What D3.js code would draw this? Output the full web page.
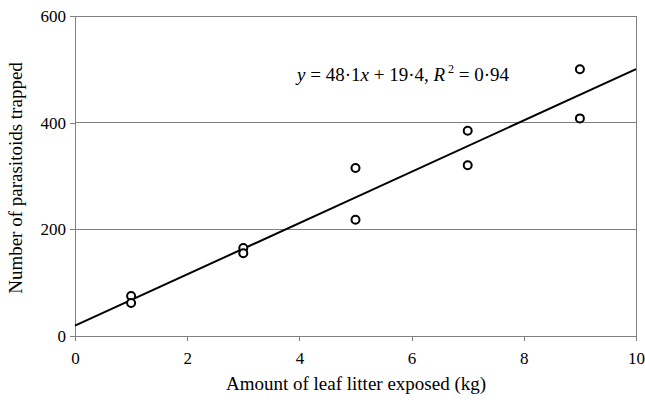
<!DOCTYPE html>
<html><head><meta charset="utf-8">
<script src="https://cdn.jsdelivr.net/npm/d3@7"></script>
<style>body{margin:0;background:#fff}svg{display:block}text{font-family:"Liberation Serif","Times New Roman",serif;fill:#000}</style>
</head><body>
<script>
const xValues = [1, 1, 3, 3, 5, 5, 7, 7, 9, 9];
const yValues = [75, 62, 165, 155, 315, 218, 385, 320, 500, 408];
const xTicks = [0, 2, 4, 6, 8, 10];
const yTicks = [0, 200, 400, 600];
const slope = 48.1, intercept = 19.4;

const W = 645, H = 402;
const m = {left: 75, right: 9, top: 16, bottom: 66};
const svg = d3.select("body").append("svg").attr("width", W).attr("height", H);
const x = d3.scaleLinear().domain([0, 10]).range([m.left, W - m.right]);
const y = d3.scaleLinear().domain([0, 600]).range([H - m.bottom, m.top]);

svg.append("g").selectAll("line").data(yTicks.filter(d => d > 0)).join("line")
  .attr("x1", x(0)).attr("x2", x(10)).attr("y1", d => y(d)).attr("y2", d => y(d))
  .attr("stroke", "#808080").attr("stroke-width", 1).attr("shape-rendering", "crispEdges");
svg.append("line").attr("x1", x(10)).attr("x2", x(10)).attr("y1", y(0)).attr("y2", y(600))
  .attr("stroke", "#808080").attr("shape-rendering", "crispEdges");

const xa = svg.append("g").attr("transform", `translate(0,${y(0)})`)
  .call(d3.axisBottom(x).tickValues(xTicks).tickSize(5).tickPadding(11).tickFormat(d3.format("d")));
const ya = svg.append("g").attr("transform", `translate(${x(0)},0)`)
  .call(d3.axisLeft(y).tickValues(yTicks).tickSize(5).tickPadding(4).tickFormat(d3.format("d")));
[xa, ya].forEach(a => {
  a.attr("font-family", null).attr("font-size", null);
  a.select(".domain").attr("stroke", "#808080").attr("shape-rendering", "crispEdges");
  a.selectAll(".tick line").attr("stroke", "#808080").attr("shape-rendering", "crispEdges");
  a.selectAll("text").style("font-size", "17px").style("font-family", "'Liberation Serif', serif").style("fill", "#000");
});

svg.append("line").attr("x1", x(0)).attr("y1", y(intercept))
  .attr("x2", x(10)).attr("y2", y(slope * 10 + intercept))
  .attr("stroke", "#000").attr("stroke-width", 2);

svg.append("g").selectAll("circle").data(xValues.map((d, i) => [d, yValues[i]])).join("circle")
  .attr("cx", d => x(d[0])).attr("cy", d => y(d[1])).attr("r", 4)
  .attr("fill", "#fff").attr("stroke", "#000").attr("stroke-width", 2);

const eq = svg.append("text").attr("x", 297).attr("y", 81).style("font-size", "19px");
eq.append("tspan").attr("font-style", "italic").text("y");
eq.append("tspan").text(" = 48·1");
eq.append("tspan").attr("font-style", "italic").text("x");
eq.append("tspan").text(" + 19·4, ");
eq.append("tspan").attr("font-style", "italic").text("R");
eq.append("tspan").style("font-size", "12px").attr("dy", -8).text(" 2");
eq.append("tspan").attr("dy", 8).text(" = 0·94");

svg.append("text").attr("x", 356).attr("y", 390).attr("text-anchor", "middle").style("font-size", "19px")
  .text("Amount of leaf litter exposed (kg)");
svg.append("text").attr("transform", `translate(22,${(y(0) + y(600)) / 2 + 2}) rotate(-90)`)
  .attr("text-anchor", "middle").style("font-size", "19px").text("Number of parasitoids trapped");
</script>
</body></html>
